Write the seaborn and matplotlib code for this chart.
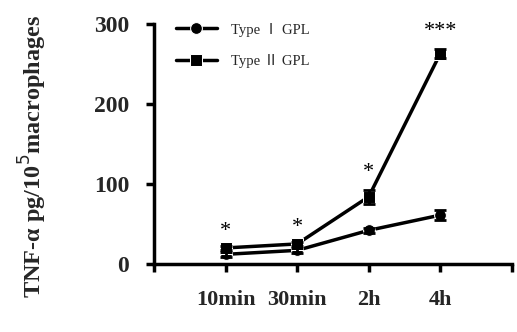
import numpy as np
import pandas as pd
import seaborn as sns
from matplotlib import pyplot as plt

# values
times = ["10min", "30min", "2h", "4h"]
type1 = [12, 17, 42, 61]
type1_err = [3, 3, 3, 6]
type2 = [20, 25, 84, 263]
type2_err = [3, 3, 9, 6]
stars = ["*", "*", "*", "***"]
star_y = [40, 46, 114, 290]
series = ["Type Ⅰ GPL", "Type Ⅱ GPL"]

sns.set_style("ticks")
plt.rcParams['font.family'] = ['Liberation Serif', 'Noto Sans CJK SC', 'DejaVu Serif']

x = np.arange(len(times))
df = pd.DataFrame({
    "x": np.concatenate([x, x]),
    "val": type1 + type2,
    "err": type1_err + type2_err,
    "group": [series[0]] * 4 + [series[1]] * 4,
})

fig = plt.figure(figsize=(5.17, 3.32), dpi=100)
ax = fig.add_axes([0.298, 0.205, 0.692, 0.723])

sns.lineplot(data=df, x="x", y="val", hue="group", style="group",
             markers={series[0]: "o", series[1]: "s"}, dashes=False,
             palette=["black", "black"], linewidth=2.5, markersize=8.5,
             ax=ax)
for g, sub in df.groupby("group"):
    ax.errorbar(sub["x"], sub["val"], yerr=sub["err"], fmt="none",
                ecolor="black", elinewidth=2, capsize=4, capthick=2)

for xi, s, yv in zip(x, stars, star_y):
    ax.text(xi, yv, s, ha="center", va="center", fontsize=16, color="black")

ax.set_xlim(-1, 4)
ax.set_ylim(0, 300)
ax.set_xticks([-1, 0, 1, 2, 3, 4])
ax.set_xticklabels([""] + times + [""], fontsize=16, fontweight="bold")
ax.set_yticks([0, 100, 200, 300])
ax.set_yticklabels(["0", "100", "200", "300"], fontsize=17, fontweight="bold")
ax.tick_params(axis="both", direction="out", length=6, width=2.5, color="black")
ax.tick_params(axis="x", pad=13)
ax.tick_params(axis="y", pad=12)
for sp in ["left", "bottom"]:
    ax.spines[sp].set_linewidth(2.5)
    ax.spines[sp].set_color("black")
sns.despine(ax=ax)
ax.spines["left"].set_bounds(0, 300)

ax.set_xlabel("")
ax.set_ylabel("TNF-α pg/10$^5$macrophages", fontsize=17.5, fontweight="bold")
ax.yaxis.set_label_coords(-0.295, 0.45)

leg = ax.legend(loc="upper left", frameon=False, fontsize=10.5, handlelength=2.8,
                borderaxespad=0.0, bbox_to_anchor=(0.045, 1.03), labelspacing=1.2,
                handletextpad=1.0)

fig.savefig("out.png", dpi=100)
